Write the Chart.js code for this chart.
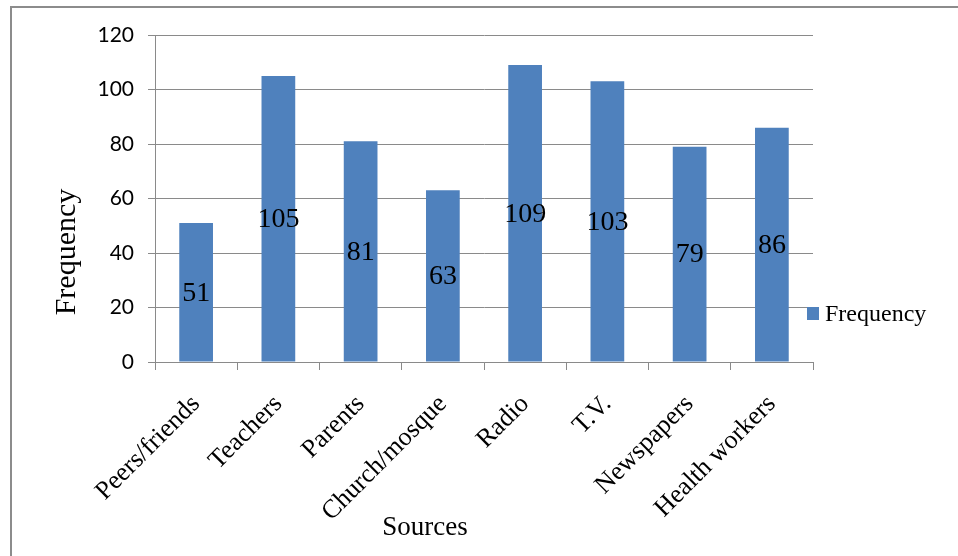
<!DOCTYPE html>
<html>
<head>
<meta charset="utf-8">
<script src="https://cdn.jsdelivr.net/npm/chart.js@4"></script>
<style>
  html, body { margin: 0; padding: 0; background: #fff; }
  #wrap { width: 958px; height: 556px; position: relative; }
</style>
</head>
<body>
<div id="wrap"><canvas id="chart"></canvas></div>
<script>
// Sources of information and how often respondents named them
const categories = ['Peers/friends', 'Teachers', 'Parents', 'Church/mosque', 'Radio', 'T.V.', 'Newspapers', 'Health workers'];
const frequency = [51, 105, 81, 63, 109, 103, 79, 86];
const yTicks = [0, 20, 40, 60, 80, 100, 120];
const seriesName = 'Frequency';
const xTitle = 'Sources';
const yTitle = 'Frequency';

const BAR = '#4F81BD';
const GRID = '#8a8a8a';
const SERIF = '"Liberation Serif", "Times New Roman", serif';
const SANS = 'Lato, "Open Sans", sans-serif';

// Frame, axis titles, value labels and legend drawn on the canvas
const decorations = {
  id: 'decorations',
  afterDatasetsDraw(chart) {
    const ctx = chart.ctx;
    ctx.save();

    // outer frame (top and left edges)
    ctx.fillStyle = '#8c8c8c';
    ctx.fillRect(10, 6, 948, 2);
    ctx.fillRect(10, 6, 2, 550);

    // value labels at the middle of each bar
    const meta = chart.getDatasetMeta(0);
    const data = chart.data.datasets[0].data;
    ctx.fillStyle = '#000';
    ctx.font = '28px ' + SERIF;
    ctx.textAlign = 'center';
    ctx.textBaseline = 'middle';
    meta.data.forEach((bar, i) => {
      const mid = (bar.y + bar.base) / 2;
      ctx.fillText(String(data[i]), bar.x, mid + 1);
    });

    // axis titles
    ctx.font = '30px ' + SERIF;
    ctx.save();
    ctx.translate(67, 252);
    ctx.rotate(-Math.PI / 2);
    ctx.fillText(yTitle, 0, 0);
    ctx.restore();

    ctx.font = '27px ' + SERIF;
    ctx.fillText(xTitle, 425, 528);

    // legend
    ctx.fillStyle = chart.data.datasets[0].backgroundColor;
    ctx.fillRect(807, 307, 12, 13);
    ctx.fillStyle = '#000';
    ctx.font = '24px ' + SERIF;
    ctx.textAlign = 'left';
    ctx.fillText(chart.data.datasets[0].label, 825, 315);

    ctx.restore();
  }
};

new Chart(document.getElementById('chart'), {
  type: 'bar',
  data: {
    labels: categories,
    datasets: [{
      label: seriesName,
      data: frequency,
      backgroundColor: BAR,
      borderWidth: 0,
      categoryPercentage: 1,
      barPercentage: 0.41
    }]
  },
  options: {
    responsive: true,
    maintainAspectRatio: false,
    animation: false,
    devicePixelRatio: 1,
    layout: { padding: { top: 35, right: 145, left: 0, bottom: 0 } },
    plugins: {
      legend: { display: false },
      tooltip: { enabled: false }
    },
    scales: {
      x: {
        offset: true,
        grid: {
          offset: true,
          drawOnChartArea: false,
          drawTicks: true,
          tickLength: 8,
          color: GRID,
          lineWidth: 1
        },
        border: { color: GRID, width: 1 },
        ticks: {
          color: '#000',
          font: { family: SERIF, size: 26 },
          minRotation: 45,
          maxRotation: 45,
          padding: 19,
          autoSkip: false
        },
        afterFit(scale) { scale.height = 194; }
      },
      y: {
        min: yTicks[0],
        max: yTicks[yTicks.length - 1],
        afterBuildTicks(scale) { scale.ticks = yTicks.map(v => ({ value: v })); },
        grid: {
          color: GRID,
          lineWidth: 1,
          drawTicks: true,
          tickLength: 7
        },
        border: { color: GRID, width: 1 },
        ticks: {
          color: '#000',
          font: { family: SANS, size: 21 },
          padding: 14
        },
        afterFit(scale) { scale.width = 155; }
      }
    }
  },
  plugins: [decorations]
});
</script>
</body>
</html>
